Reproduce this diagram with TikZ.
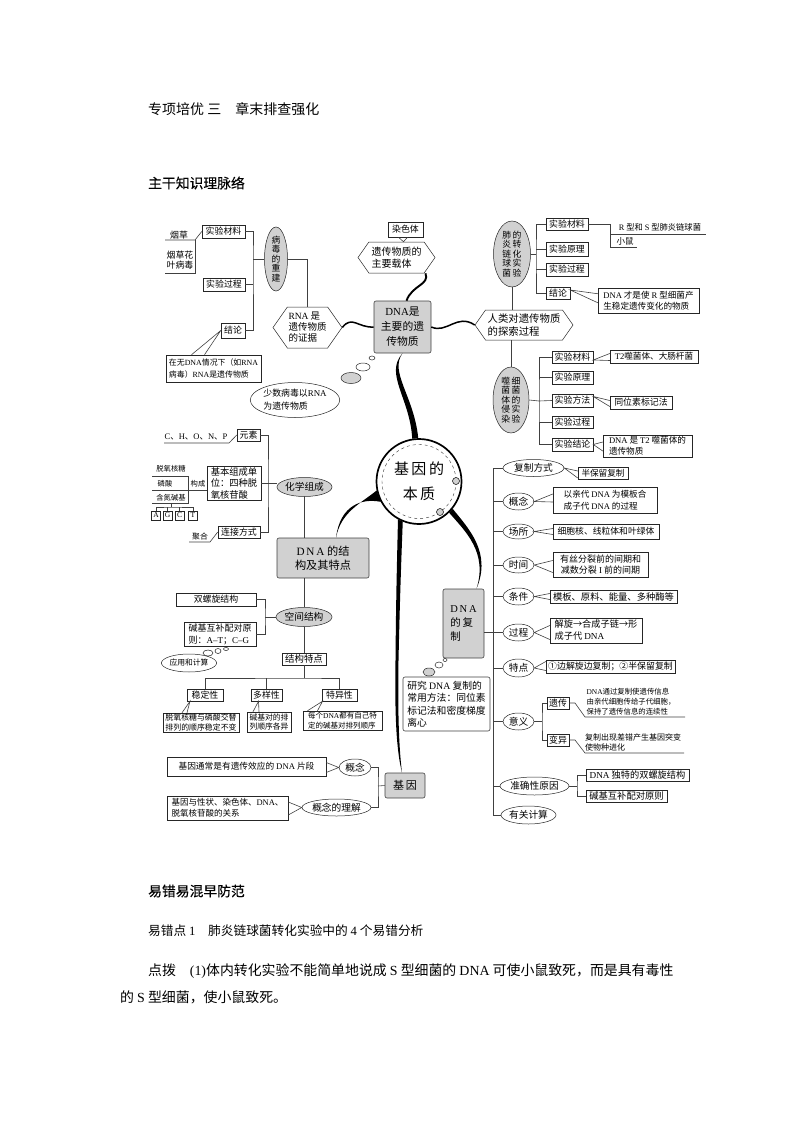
\documentclass[tikz,border=0pt]{standalone}
\usepackage{fontspec}
\setmainfont{Noto Sans CJK SC}
\newfontfamily\latfont{Liberation Serif}
\newfontfamily\hvfont[FakeBold=0.25]{Noto Sans CJK SC}
\usetikzlibrary{shapes,shadows,positioning,calc}
\newcommand{\la}[1]{{\latfont #1}}
\newcommand{\fz}[2]{\fontsize{#1}{#2}\selectfont}

\begin{document}
\begin{tikzpicture}[%
    x=1pt,y=-1pt,
    every node/.style={font=\fz{8.9}{10.5},inner sep=0pt,align=center},
    conn/.style={draw=black!75,line width=.6pt},
    bx/.style 2 args={draw=black!85,fill=white,line width=.5pt,minimum width=#1pt,minimum height=#2pt,
      drop shadow={shadow xshift=.7pt,shadow yshift=-.7pt,fill=black!55,opacity=1}},
    gbx/.style 2 args={draw=black!75,fill=black!18,rounded corners=2pt,line width=.6pt,minimum width=#1pt,minimum height=#2pt},
    ov/.style 2 args={ellipse,draw=black!85,fill=white,line width=.5pt,minimum width=#1pt,minimum height=#2pt,font=\fz{9.7}{11}},
    gov/.style 2 args={ellipse,draw=black!85,fill=black!18,line width=.5pt,minimum width=#1pt,minimum height=#2pt,font=\fz{9.7}{11}},
    hexa/.style 2 args={signal,signal to=east and west,signal pointer angle=110,draw=black!85,fill=white,line width=.5pt,minimum width=#1pt,minimum height=#2pt},
    every label/.style={inner sep=0pt,align=center,font=\fz{8.8}{9.6}}
  ]
  \useasboundingbox (0,0) rectangle (794,1123);

  % page text
  \node[anchor=west,font=\fz{14}{16}] (ttl) at (148,109) {专项培优\ 三\quad 章末排查强化};
  \node[anchor=west,font=\fz{13.8}{16}\hvfont] (sub) at (148,183) {主干知识理脉络};
  \node[anchor=west,font=\fz{13.8}{16}\hvfont] (err) at (148,891) {易错易混早防范};
  \node[anchor=west,font=\fz{12.7}{16}] (pt1) at (148,931) {易错点\ \la{1}\quad 肺炎链球菌转化实验中的\ \la{4}\ 个易错分析};
  \node[anchor=west,font=\fz{13.9}{16}] (tx1) at (148,971) {点拨\quad \la{(1)}体内转化实验不能简单地说成\ \la{S}\ 型细菌的\ \la{DNA}\ 可使小鼠致死，而是具有毒性};
  \node[anchor=west,font=\fz{13.9}{16}] (tx2) at (120,997) {的\ \la{S}\ 型细菌，使小鼠致死。};

  % centre
  \node[circle,draw=black,fill=white,line width=1.7pt,minimum size=85pt,font=\fz{15}{25}] (hub) at (419,481.5) {基\,因\,的\\本\,质};
  \draw[black!80,dashed,line width=.4pt] (hub) circle (37);
  \node[circle,draw=black,fill=black!18,line width=.5pt,minimum size=7pt] (hb1) at (456,481) {};
  \node[circle,draw=black,fill=black!18,line width=.5pt,minimum size=7pt] (hb2) at (440,512) {};
  \node[gbx={57}{52},font=\fz{10.8}{15}] (main) at (402.5,327) {\la{DNA}是\\主要的遗\\传物质};
  \node[gbx={92}{40},font=\fz{11.2}{14}] (strc) at (323,558) {\la{D\,N\,A}\ 的结\\构及其特点};
  \node[gbx={41}{69},font=\fz{10.5}{14},align=left] (repl) at (463.5,623.5) {\la{D\,N\,A}\\的\,复\\制};
  \node[gbx={40}{25},font=\fz{11}{14}] (gene) at (405,785.5) {基\,因};

  \fill (main.south) .. controls (384,374) and (410,398) .. (hub.99) -- (hub.91)
    .. controls (414,396) and (389,372) .. (main.south);
  \fill (hub.208) .. controls (362,498) and (340,505) .. ([xshift=13pt]strc.north)
    .. controls (341,512) and (360,504) .. (hub.192) -- cycle;
  \fill (hub.248) .. controls (400,590) and (399,640) .. (398.5,660)
    .. controls (398,700) and (398,740) .. ([xshift=-3pt]gene.north)
    .. controls (395,745) and (395,700) .. (395.5,660)
    .. controls (396,600) and (397,560) .. (hub.241) -- cycle;
  \fill (hub.-39) .. controls (468,528) and (492,552) .. ([xshift=13pt]repl.north)
    .. controls (488,552) and (465,531) .. (hub.-46) -- cycle;

  % left top
  \node[hexa={77}{31},font=\fz{10}{12},align=left] (carr) at (396.5,257.5) {遗传物质的\\主要载体};
  \node[bx={35}{15}] (chrm) at (405.5,229.5) {染色体};
  \draw[conn] ([xshift=-7pt]chrm.south) -- ([xshift=7pt]carr.north) -- ([xshift=2pt]chrm.south);
  \draw[line width=1.9pt] ([xshift=29pt]carr.south) .. controls (430,285) and (412,285) .. ([xshift=4pt]main.north);

  \node[hexa={69}{41},font=\fz{9.5}{11},align=left] (rnap) at (307.5,327.5) {\la{RNA}\ 是\\遗传物质\\的证据};
  \draw[line width=1.5pt] (rnap.east) .. controls (352,315) and (358,328) .. (main.west);
  \node[gov={23}{64},label=center:{病\\毒\\的\\重\\建}] (virs) at (276,259) {};
  \draw[conn] (virs.east) -| (rnap.north);
  \coordinate (vsp) at (253,259);
  \node[bx={43}{13}] (vmat) at (223.5,231.5) {实验材料};
  \node[bx={42}{13}] (vpro) at (224,284.5) {实验过程};
  \node[bx={24}{15}] (vcon) at (233,330.5) {结论};
  \node[bx={95}{27},font=\fz{7.9}{11.5},align=left] (vnot) at (213.5,368.5) {在无\la{DNA}情况下（如\la{RNA}\\病毒）\la{RNA}是遗传物质};
  \draw[conn] (vmat.east) -| (vsp) |- (vcon.east);
  \draw[conn] (vpro.east) -- (vpro.east -| vsp);
  \draw[conn] (vsp) -- (virs.west);
  \draw[conn] ([xshift=-22pt]vnot.north) -- (vcon.west) -- ([xshift=-9pt]vnot.north);
  \node (tob) at (179,235) {烟草};
  \node (tmv) at (180,260) {烟草花\\叶病毒};
  \coordinate (tb0) at (195,240);
  \coordinate (tb1) at (165,240);
  \coordinate (tb2) at (165,273);
  \draw[conn] (vmat.west) -- (tb0) -- (tb1);
  \draw[conn] (tb0) |- (tb2);

  % thought bubble top
  \node[ov={6}{4}] (tb3) at (372,358) {};
  \node[ov={14}{8}] (tb4) at (363,367) {};
  \node[gov={20}{11}] (tb5) at (351,378) {};
  \node[ov={89}{35},font=\fz{8.9}{13},align=left] (vfew) at (295,400) {少数病毒以\la{RNA}\\为遗传物质};

  % right top
  \node[hexa={98}{30},font=\fz{10.4}{12.5},align=left] (hist) at (524,325) {人类对遗传物质\\的探索过程};
  \draw[line width=1.5pt] (main.east) .. controls (447,334) and (457,313) .. (hist.west);
  \node[gov={37}{66},label=center:{肺\,的\\炎\,转\\链\,化\\球\,实\\菌\,验}] (pneu) at (512,254) {};
  \node[gov={36}{66},label=center:{噬\,细\\菌\,菌\\体\,的\\侵\,实\\染\,验}] (phag) at (511,400) {};
  \draw[conn] (pneu.south) -- (pneu.south |- hist.north);
  \draw[conn] (phag.north) -- (phag.north |- hist.south);
  \coordinate (psp) at (536,254);
  \node[bx={42}{12}] (pmat) at (567,224) {实验材料};
  \node[bx={42}{14}] (ppri) at (567,249) {实验原理};
  \node[bx={42}{13}] (ppro) at (567,269.5) {实验过程};
  \node[bx={24}{12}] (pcon) at (558,293) {结论};
  \draw[conn] (pmat.west) -| (psp) |- (pcon.west);
  \draw[conn] (ppri.west) -- (ppri.west -| psp);
  \draw[conn] (ppro.west) -- (ppro.west -| psp);
  \draw[conn] (pneu.east) -- (psp);
  \node[font=\fz{8.3}{10}] (rs) at (660,227) {\la{R}\ 型和\ \la{S}\ 型肺炎链球菌};
  \node[font=\fz{8.5}{10}] (mou) at (625,241) {小鼠};
  \coordinate (rs0) at (610,224);
  \coordinate (rs1) at (610,234);
  \coordinate (rs2) at (706,234);
  \coordinate (rs3) at (637,247);
  \draw[conn] (pmat.east) -- (rs0) |- (rs3);
  \draw[conn] (rs1) -- (rs2);
  \node[bx={101}{25},font=\fz{8.6}{11.5},align=left] (pnot) at (648.5,300.5) {\la{DNA}\ 才是使\ \la{R}\ 型细菌产\\生稳定遗传变化的物质};
  \draw[conn] ([yshift=-6pt]pnot.north west) -- ([yshift=3pt]pcon.east) -- ([yshift=-15pt]pnot.north west);

  \coordinate (qsp) at (539,401);
  \node[bx={41}{12}] (qmat) at (572.5,357) {实验材料};
  \node[bx={41}{13}] (qpri) at (572.5,377.5) {实验原理};
  \node[bx={41}{13}] (qmet) at (572.5,400.5) {实验方法};
  \node[bx={41}{12}] (qpro) at (572.5,422) {实验过程};
  \node[bx={41}{13}] (qcon) at (572.5,444.5) {实验结论};
  \draw[conn] (qmat.west) -| (qsp) |- (qcon.west);
  \draw[conn] (qpri.west) -- (qpri.west -| qsp);
  \draw[conn] (qmet.west) -- (qsp);
  \draw[conn] (qpro.west) -- (qpro.west -| qsp);
  \draw[conn] (phag.east) -- (qsp);
  \node[bx={88}{13},font=\fz{8.6}{10}] (qn1) at (654,356.5) {\la{T2}噬菌体、大肠杆菌};
  \node[bx={62}{13}] (qn2) at (641,402.5) {同位素标记法};
  \node[bx={89}{22},font=\fz{8.6}{11},align=left] (qn3) at (647.5,446) {\la{DNA}\ 是\ \la{T2}\ 噬菌体的\\遗传物质};
  \draw[conn] ([yshift=3pt]qn1.west) -- ([yshift=-3pt]qmat.east) -- ([yshift=-4pt]qn1.west);
  \draw[conn] ([yshift=2pt]qn2.west) -- ([yshift=4pt]qmet.east) -- ([yshift=-4pt]qn2.west);
  \draw[conn] ([yshift=4pt]qn3.west) -- (qcon.east) -- ([yshift=-5pt]qn3.west);

  % chemical composition
  \node[gov={55}{19}] (chem) at (304.5,487) {化学组成};
  \draw[conn] (chem.south) -- (chem.south |- strc.north);
  \coordinate (csp) at (268,483);
  \node[bx={23}{12}] (elem) at (248.5,435) {元素};
  \node[bx={54}{34},align=left,font=\fz{9.3}{11.5}] (unit) at (234,483) {基本组成单\\位：四种脱\\氧核苷酸};
  \node[bx={42}{12}] (link) at (239,532) {连接方式};
  \draw[conn] (elem.east) -| (csp) |- (link.east);
  \draw[conn] (unit.east) -- (chem.west |- unit.east);
  \node[font=\fz{8.5}{10}] (chon) at (196,437) {\la{C}、\la{H}、\la{O}、\la{N}、\la{P}};
  \coordinate (ch0) at (229,443);
  \coordinate (ch1) at (164,443);
  \draw[conn] (elem.west) -- (ch0) -- (ch1);
  \node[font=\fz{7.3}{9}] (jc1) at (171,469) {脱氧核糖};
  \node[font=\fz{7.3}{9}] (jc2) at (165,484) {磷酸};
  \node[font=\fz{7.3}{9}] (jc3) at (171,498) {含氮碱基};
  \node[font=\fz{7.3}{9}] (jc4) at (198,484) {构成};
  \coordinate (u1) at (152,476);
  \coordinate (u2) at (188,476);
  \coordinate (u3) at (152,490);
  \coordinate (u4) at (188,503);
  \coordinate (u5) at (152,503);
  \draw[conn] (u1) -- (u2) -- (u4) -- (u5);
  \draw[conn] (u3) -- (u3 -| unit.west);
  \node[bx={9}{9},font=\fz{7.5}{8}] (ba) at (156,515.5) {\la{A}};
  \node[bx={9}{9},font=\fz{7.5}{8}] (bg) at (167.5,515.5) {\la{G}};
  \node[bx={9}{9},font=\fz{7.5}{8}] (bc) at (179.5,515.5) {\la{C}};
  \node[bx={9}{9},font=\fz{7.5}{8}] (bt) at (193,515.5) {\la{T}};
  \coordinate (u6) at (171,507);
  \draw[conn] (u6) -- (u6 |- u4);
  \draw[conn] (ba.north) |- (u6) -| (bt.north);
  \draw[conn] (bg.north) -- (bg.north |- u6);
  \draw[conn] (bc.north) -- (bc.north |- u6);
  \node[font=\fz{7.8}{9}] (poly) at (200,537) {聚合};
  \coordinate (p0) at (210,542);
  \coordinate (p1) at (189,542);
  \draw[conn] (link.west) -- (p0) -- (p1);

  % spatial structure
  \node[gov={56}{19}] (spat) at (304,617) {空间结构};
  \draw[conn] (strc.south -| spat) -- (spat.north);
  \coordinate (ssp) at (265,617);
  \node[bx={80}{13}] (dhx) at (216,599.5) {双螺旋结构};
  \node[bx={72}{24},align=left,font=\fz{9}{12}] (pair) at (220,634) {碱基互补配对原\\则：\la{A–T}；\la{C–G}};
  \draw[conn] (dhx.east) -| (ssp) |- (pair.east);
  \draw[conn] (ssp) -- (spat.west);
  \node[bx={44}{12},font=\fz{9.4}{11}] (feat) at (304,659) {结构特点};
  \draw[conn] (spat.south) -- (feat.north);
  \coordinate (ft) at (304,678);
  \draw[conn] (feat.south) -- (ft);
  \node[bx={36}{12}] (stb) at (205,695) {稳定性};
  \node[bx={31}{12}] (div) at (266.5,695) {多样性};
  \node[bx={35}{12}] (spc) at (339.5,695) {特异性};
  \draw[conn] (stb.north) |- (ft) -| (spc.north);
  \draw[conn] (div.north) -- (div.north |- ft);
  \node[bx={76}{19},font=\fz{7.9}{9.5},align=left] (sn1) at (201,722.5) {脱氧核糖与磷酸交替\\排列的顺序稳定不变};
  \node[bx={44}{20},font=\fz{7.8}{9.5},align=left] (sn2) at (269,722) {碱基对的排\\列顺序各异};
  \node[bx={79}{19},font=\fz{7.5}{9.5},align=left] (sn3) at (342.5,720.5) {每个\la{DNA}都有自己特\\定的碱基对排列顺序};
  \draw[conn] ([xshift=-19pt]sn1.north) -- ([xshift=-15pt]stb.south) -- ([xshift=-14pt]sn1.north);
  \draw[conn] ([xshift=-16pt]sn2.north) -- ([xshift=-8pt]div.south) -- ([xshift=-10pt]sn2.north);
  \draw[conn] ([xshift=-35pt]sn3.north) -- ([xshift=-17pt]spc.south) -- ([xshift=-25pt]sn3.north);
  \node[ov={48}{18},font=\fz{7.8}{9}] (calc) at (189,663) {应用和计算};
  \node[ov={10}{6}] (cb1) at (208,653) {};
  \node[ov={6}{5}] (cb2) at (218,651) {};
  \node[ov={5}{3}] (cb3) at (226,649) {};

  % gene
  \node[ov={32}{17}] (gcon) at (355,767.5) {概念};
  \node[ov={69}{17}] (gund) at (336.5,807.5) {概念的理解};
  \node[bx={159}{19},align=left,font=\fz{8.7}{10}] (gn1) at (246.5,766.5) {基因通常是有遗传效应的\ \la{DNA}\ 片段};
  \node[bx={121}{24},align=left,font=\fz{8.5}{11}] (gn2) at (227.5,808) {基因与性状、染色体、\la{DNA}、\\脱氧核苷酸的关系};
  \draw[conn] ([yshift=4pt]gn1.east) -- (gcon.west) -- ([yshift=-6pt]gn1.east);
  \draw[conn] ([yshift=6pt]gn2.east) -- (gund.west) -- ([yshift=-7pt]gn2.east);
  \coordinate (gsp) at (378,786);
  \draw[conn] (gcon.east) -| (gsp) |- (gund.east);
  \draw[conn] (gsp) -- (gene.west);

  % replication
  \node[gbx={87}{54},fill=white,font=\fz{9.8}{12.5},align=left] (rmet) at (446.5,704) {研究\ \la{DNA}\ 复制的\\常用方法：同位素\\标记法和密度梯度\\离心};
  \node[ov={4}{3}] (rb1) at (445,660) {};
  \node[ov={8}{6}] (rb2) at (439,665) {};
  \node[gov={12}{8}] (rb3) at (429,672) {};
  \coordinate (rtop) at (493,468);
  \coordinate (rbot) at (493,815);
  \node[ov={61}{17}] (e1) at (533.5,468) {复制方式};
  \node[ov={31}{17}] (e2) at (518.5,501.5) {概念};
  \node[ov={31}{15}] (e3) at (518.5,531.5) {场所};
  \node[ov={31}{16}] (e4) at (518.5,565) {时间};
  \node[ov={31}{17}] (e5) at (518.5,596.5) {条件};
  \node[ov={31}{17}] (e6) at (518.5,632.5) {过程};
  \node[ov={31}{18}] (e7) at (518.5,668) {特点};
  \node[ov={31}{17}] (e8) at (518.5,721.5) {意义};
  \node[ov={69}{18}] (e9) at (534.5,786) {准确性原因};
  \node[ov={55}{18}] (e10) at (528.5,815) {有关计算};
  \draw[conn] (e1.west) -- (rtop) -- (rbot) -- (e10.west);
  \foreach \n in {e2,e3,e4,e5,e6,e7,e8,e9} {
    \draw[conn] (\n.west) -- (\n.west -| rtop);
  }
  \draw[conn] (repl.east |- e6) -- (e6.west -| rtop);
  \node[bx={50}{12},font=\fz{8.6}{10}] (b1) at (603,473) {半保留复制};
  \node[bx={104}{26},font=\fz{8.6}{11.5},align=left] (b2) at (605,500) {以亲代\ \la{DNA}\ 为模板合\\成子代\ \la{DNA}\ 的过程};
  \node[bx={106}{15},font=\fz{8.8}{10}] (b3) at (606,531.5) {细胞核、线粒体和叶绿体};
  \node[bx={95}{25},font=\fz{9}{11}] (b4) at (600.5,564.5) {有丝分裂前的间期和\\减数分裂\ \la{I}\ 前的间期};
  \node[bx={127}{13},font=\fz{9.3}{10}] (b5) at (613.5,596.5) {模板、原料、能量、多种酶等};
  \node[bx={92}{25},font=\fz{9.2}{12},align=left] (b6) at (596,630.5) {解旋→合成子链→形\\成子代\ \la{DNA}};
  \node[bx={129}{13},font=\fz{8.9}{10}] (b7) at (610.5,666.5) {①边解旋边复制；②半保留复制};
  \draw[conn] ([yshift=2pt]b1.west) -- ([yshift=-0pt]e1.east) -- ([yshift=-5pt]b1.west);
  \draw[conn] ([yshift=6pt]b2.west) -- (e2.east) -- ([yshift=-2pt]b2.west);
  \draw[conn] ([yshift=3pt]b3.west) -- (e3.east) -- ([yshift=-3pt]b3.west);
  \draw[conn] ([yshift=4pt]b4.west) -- (e4.east) -- ([yshift=-8pt]b4.west);
  \draw[conn] ([yshift=3pt]b5.west) -- (e5.east) -- ([yshift=-3pt]b5.west);
  \draw[conn] ([yshift=5pt]b6.west) -- (e6.east) -- ([yshift=-9pt]b6.west);
  \draw[conn] ([yshift=5pt]b7.west) -- (e7.east) -- ([yshift=-4pt]b7.west);
  \coordinate (msp) at (542,721.5);
  \node[bx={22}{12}] (m1) at (558,703) {遗传};
  \node[bx={22}{12}] (m2) at (558,740) {变异};
  \draw[conn] (m1.west) -| (msp) |- (m2.west);
  \draw[conn] (e8.east) -- (msp);
  \node[font=\fz{7.4}{10},align=left] (mt1) at (631,702) {\la{DNA}通过复制使遗传信息\\由亲代细胞传给子代细胞，\\保持了遗传信息的连续性};
  \node[font=\fz{8}{10},align=left] (mt2) at (633,742) {复制出现差错产生基因突变\\使物种进化};
  \coordinate (ma) at (575,703);
  \coordinate (mb) at (585,717);
  \coordinate (mc) at (685,717);
  \coordinate (md) at (575,740);
  \coordinate (me) at (585,753);
  \coordinate (mf) at (684,753);
  \draw[conn] (m1.east) -- (ma) -- (mb) -- (mc);
  \draw[conn] (m2.east) -- (md) -- (me) -- (mf);
  \coordinate (asp) at (577,786);
  \node[bx={103}{12},font=\fz{9.2}{10}] (a1) at (637.5,775) {\la{DNA}\ 独特的双螺旋结构};
  \node[bx={81}{12},font=\fz{9.3}{10}] (a2) at (626.5,796) {碱基互补配对原则};
  \draw[conn] (a1.west) -| (asp) |- (a2.west);
  \draw[conn] (e9.east) -- (asp);
\end{tikzpicture}
\end{document}
